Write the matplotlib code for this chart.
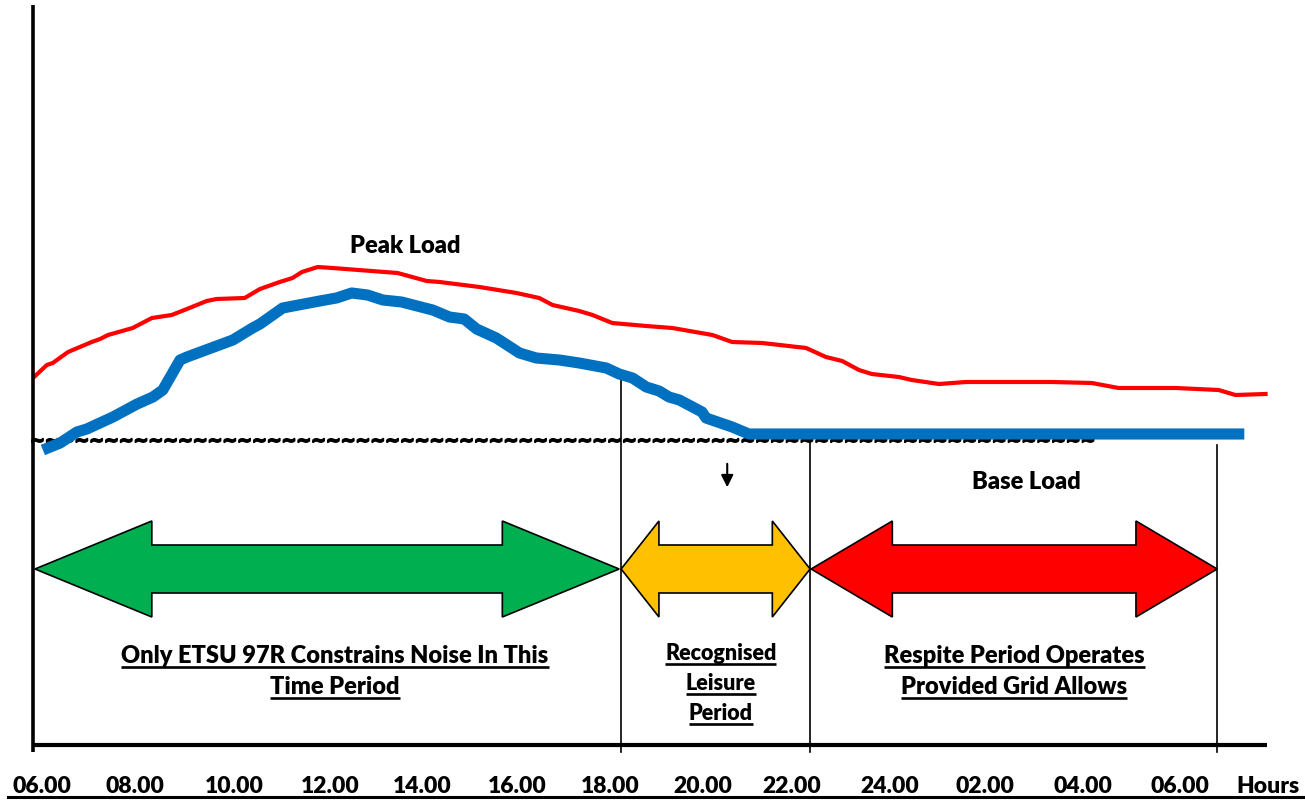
import matplotlib
matplotlib.use("Agg")
import matplotlib.pyplot as plt
import matplotlib.transforms as mtransforms
import matplotlib.patheffects as pe
from matplotlib.patches import Polygon
from matplotlib.lines import Line2D

# ---------------- data (x in hours from 06.00, y in relative load units) ----------------
tick_pos = [6.18, 8.06, 10.07, 12.03, 13.89, 15.81, 17.70, 19.58, 21.38, 23.36, 25.30, 27.27, 29.25, 31.03]
tick_labels = ["06.00", "08.00", "10.00", "12.00", "14.00", "16.00", "18.00", "20.00",
               "22.00", "24.00", "02.00", "04.00", "06.00", "Hours"]

peak_h = [6.00, 6.28, 6.40, 6.71, 6.95, 7.19, 7.36, 7.52, 8.02, 8.41, 8.81, 9.12, 9.52, 9.72,
          10.29, 10.60, 11.00, 11.26, 11.45, 11.77, 12.07, 13.39, 13.98, 14.24, 15.05, 15.80,
          16.26, 16.53, 17.07, 17.34, 17.74, 18.43, 18.96, 19.77, 20.17, 20.78, 21.67, 22.07,
          22.40, 22.74, 23.00, 23.55, 23.81, 24.36, 24.91, 26.65, 27.46, 28.00, 29.16, 30.03,
          30.37, 30.98]
peak_v = [367, 380, 382, 393, 398, 403, 406, 410, 417, 427, 430, 436, 444, 446, 447, 456, 463,
          467, 473, 478, 477, 472, 464, 463, 458, 452, 447, 440, 434, 430, 422, 419, 417, 410,
          403, 402, 397, 388, 384, 375, 371, 368, 365, 361, 363, 363, 362, 357, 357, 355, 350,
          351]

base_h = [6.20, 6.55, 6.89, 7.09, 7.62, 8.11, 8.43, 8.63, 8.98, 9.12, 10.05, 10.45, 10.60,
          11.06, 11.81, 12.15, 12.46, 12.78, 13.09, 13.47, 14.10, 14.44, 14.74, 14.99, 15.39,
          15.86, 16.20, 16.67, 17.07, 17.62, 17.88, 18.15, 18.43, 18.69, 18.89, 19.10, 19.56,
          19.64, 20.17, 20.51, 30.55]
base_v = [295, 302, 313, 316, 328, 341, 348, 355, 385, 388, 405, 417, 421, 437, 444, 447, 452,
          450, 445, 443, 435, 428, 426, 416, 407, 392, 387, 385, 382, 377, 371, 367, 358, 354,
          348, 345, 333, 327, 318, 311, 311]

period_start = [6.04, 17.92, 21.77]
period_end = [17.88, 21.75, 30.00]
period_colors = ["#00B050", "#FFC000", "#FF0000"]

divider_h = [17.92, 21.75, 30.00]
divider_top = [365, 313, 300]

FONT = "Lato"
WEIGHT = "heavy"

# ---------------- figure ----------------
fig = plt.figure(figsize=(13.05, 8.02), dpi=100)
fig.patch.set_facecolor("white")
ax = fig.add_axes([33 / 1305, 57 / 802, 1235 / 1305, 740 / 802])
ax.set_xlim(6, 31)
ax.set_ylim(0, 740)
for sp in ax.spines.values():
    sp.set_visible(False)
ax.set_yticks([])
ax.set_xticks(tick_pos, tick_labels)
ax.tick_params(axis="x", length=0, pad=22.3)
for lab in ax.get_xticklabels():
    lab.set_fontfamily(FONT)
    lab.set_fontweight(WEIGHT)
    lab.set_fontsize(16.5)

# axes lines
ax.plot([6, 6], [-7, 740], color="black", lw=2.6, clip_on=False, solid_capstyle="butt", zorder=5)
ax.plot([6, 31], [0, 0], color="black", lw=3.0, clip_on=False, solid_capstyle="butt", zorder=5)

# divider lines
for h, top in zip(divider_h, divider_top):
    ax.plot([h, h], [-7, top], color="black", lw=1.2, clip_on=False, zorder=1)

# wavy tilde line
tilde_start, tilde_end, tilde_base = 5.94, 27.49, 299
tl = ax.text(tilde_start, tilde_base, "~" * 72, fontsize=12.7, fontweight="bold",
             family="DejaVu Sans", ha="left", va="baseline", zorder=2, clip_on=False,
             path_effects=[pe.withStroke(linewidth=1.3, foreground="black")])

# load curves
ax.plot(peak_h, peak_v, color="#FF0000", lw=3.0, solid_joinstyle="round", zorder=3)
ax.plot(base_h, base_v, color="#0070C0", lw=8.0, solid_capstyle="butt",
        solid_joinstyle="round", zorder=4)

# double-headed block arrows
yc, bh, hh = 176, 24, 48
for x0, x1, c in zip(period_start, period_end, period_colors):
    hl = (x1 - x0) * 0.2
    pts = [(x0, yc), (x0 + hl, yc + hh), (x0 + hl, yc + bh), (x1 - hl, yc + bh),
           (x1 - hl, yc + hh), (x1, yc), (x1 - hl, yc - hh), (x1 - hl, yc - bh),
           (x0 + hl, yc - bh), (x0 + hl, yc - hh)]
    ax.add_patch(Polygon(pts, closed=True, facecolor=c, edgecolor="black", lw=1.2, zorder=3))

# small down arrow
ax.annotate("", xy=(20.07, 255), xytext=(20.07, 284),
            arrowprops=dict(arrowstyle="-|>", color="black", lw=1.5, mutation_scale=18))

# labels
ax.text(13.54, 492, "Peak Load", ha="center", va="baseline", fontsize=17,
        fontweight=WEIGHT, family=FONT)
ax.text(26.13, 256, "Base Load", ha="center", va="baseline", fontsize=17,
        fontweight=WEIGHT, family=FONT)

under = []
def utext(x, y, s, size):
    t = ax.text(x, y, s, ha="center", va="baseline", fontsize=size, fontweight=WEIGHT,
                family=FONT)
    under.append(t)

utext(12.12, 82, "Only ETSU 97R Constrains Noise In This", 17)
utext(12.12, 51, "Time Period", 17)
utext(19.94, 85, "Recognised", 15.5)
utext(19.94, 55, "Leisure", 15.5)
utext(19.94, 25, "Period", 15.5)
utext(25.89, 82, "Respite Period Operates", 17)
utext(25.89, 51, "Provided Grid Allows", 17)

fig.canvas.draw()
r = fig.canvas.get_renderer()
inv = ax.transData.inverted()

# fit tilde line width
w = tl.get_window_extent(r).width
target = ax.transData.transform((tilde_end, 0))[0] - ax.transData.transform((tilde_start, 0))[0]
tl.set_fontsize(12.7 * target / w)

off = mtransforms.offset_copy(ax.transData, fig=fig, x=0, y=-3, units="points")
for t in under:
    bb = t.get_window_extent(r)
    xa = inv.transform((bb.x0, 0))[0]
    xb = inv.transform((bb.x1, 0))[0]
    y = t.get_position()[1]
    ax.plot([xa, xb], [y, y], transform=off, color="black", lw=1.9,
            solid_capstyle="butt", clip_on=False)

# bottom border line
fig.add_artist(Line2D([8 / 1305, 1.0], [1 - 797 / 802] * 2, color="black", lw=2.2))

fig.savefig("out.png", dpi=100)
